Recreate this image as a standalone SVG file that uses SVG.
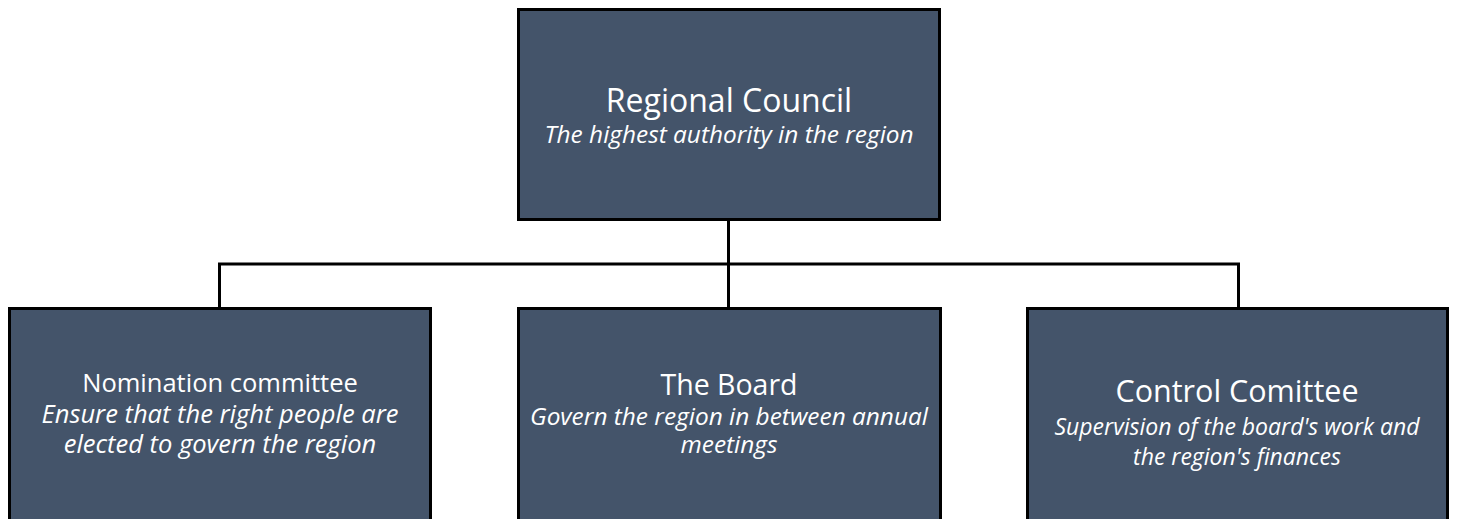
<svg xmlns="http://www.w3.org/2000/svg" width="1459" height="519" viewBox="0 0 1459 519">
<style>
.box{fill:#44546a;stroke:#000;stroke-width:3}
.conn{fill:none;stroke:#000;stroke-width:3}
text{font-family:"Open Sans","Noto Sans",sans-serif;fill:#fff;text-anchor:middle}
.s{font-style:italic}
</style>
<rect width="1459" height="519" fill="#fff"/>
<g id="connectors">
<path class="conn" d="M728.5 220 V264 M219.5 307 V264 H1238.5 V307 M728.5 264 V307"/>
</g>
<g id="regional-council">
<rect class="box" x="518.5" y="9.5" width="421" height="210"/>
<text x="729" y="112" font-size="32">Regional Council</text>
<text class="s" x="729" y="143" font-size="24.4">The highest authority in the region</text>
</g>
<g id="nomination-committee">
<rect class="box" x="9.5" y="308.5" width="421" height="212"/>
<text x="220" y="392" font-size="25.5">Nomination committee</text>
<text class="s" x="220" y="423" font-size="25.5">Ensure that the right people are</text>
<text class="s" x="220" y="453" font-size="25.5">elected to govern the region</text>
</g>
<g id="the-board">
<rect class="box" x="518.5" y="308.5" width="422" height="212"/>
<text x="729" y="395" font-size="28.5">The Board</text>
<text class="s" x="729" y="425" font-size="24.4">Govern the region in between annual</text>
<text class="s" x="729" y="453" font-size="24.4">meetings</text>
</g>
<g id="control-comittee">
<rect class="box" x="1027.5" y="308.5" width="420" height="212"/>
<text x="1237" y="402" font-size="30.5">Control Comittee</text>
<text class="s" x="1237" y="435" font-size="23">Supervision of the board's work and</text>
<text class="s" x="1237" y="465" font-size="23">the region's finances</text>
</g>
</svg>
